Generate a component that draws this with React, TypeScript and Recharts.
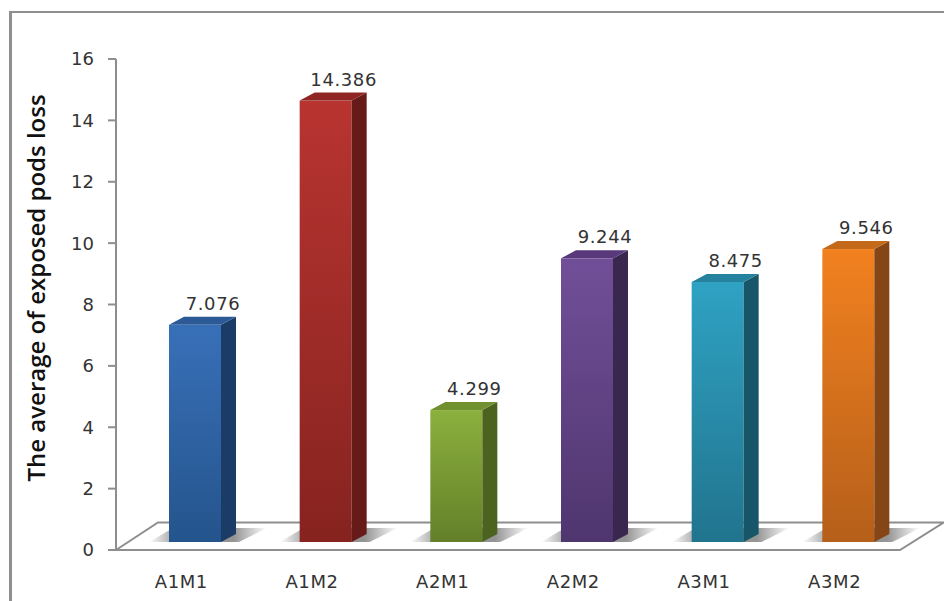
import React from 'react';
import { BarChart, Bar, XAxis, YAxis, LabelList, ReferenceArea, Cell } from 'recharts';

const categories = ['A1M1', 'A1M2', 'A2M1', 'A2M2', 'A3M1', 'A3M2'];
const values = [7.076, 14.386, 4.299, 9.244, 8.475, 9.546];
const yTicks = [0, 2, 4, 6, 8, 10, 12, 14, 16];

// front top, front bottom, side, cap
const palettes = [
  ['#3870b8', '#24548c', '#1b3c66', '#2b5a96'],
  ['#b83431', '#86231f', '#671b18', '#8f2623'],
  ['#8cb03e', '#638029', '#4b631f', '#71902f'],
  ['#714f98', '#4f366f', '#392750', '#59397c'],
  ['#2fa2c3', '#21748e', '#175668', '#24829e'],
  ['#f2811f', '#b55f1a', '#854514', '#c4691a'],
];

const chartData = categories.map((name, i) => ({ name, value: values[i] }));

const axisColor = '#8e8e8e';
const textColor = '#333333';

// bars stand a little back on the floor, so everything is nudged up and right
const SHIFT_X = 14;
const SHIFT_Y = -8;
const DEPTH_X = 15;
const DEPTH_Y = -8;

const Bar3D = (props: any) => {
  const { x, y, width, height, index } = props;
  const c = palettes[index];
  const l = x + SHIFT_X;
  const r = l + width;
  const t = y + SHIFT_Y;
  const b = t + height;
  return (
    <g>
      <polygon points={`${l - 20},${b} ${l + 4},${b - 14} ${r + 46},${b - 14} ${r + 18},${b}`} fill={`url(#shadow${index})`} />
      <rect x={l} y={t} width={width} height={height} fill={`url(#front${index})`} />
      <polygon points={`${r},${t} ${r + DEPTH_X},${t + DEPTH_Y} ${r + DEPTH_X},${b + DEPTH_Y} ${r},${b}`} fill={c[2]} />
      <polygon points={`${l},${t} ${l + DEPTH_X},${t + DEPTH_Y} ${r + DEPTH_X},${t + DEPTH_Y} ${r},${t}`} fill={c[3]} />
      <defs>
        <linearGradient id={`front${index}`} x1="0" y1="0" x2="0" y2="1">
          <stop offset="0%" stopColor={c[0]} />
          <stop offset="100%" stopColor={c[1]} />
        </linearGradient>
        <linearGradient id={`shadow${index}`} x1="0" y1="0" x2="1" y2="0">
          <stop offset="0%" stopColor="#666" stopOpacity={0} />
          <stop offset="25%" stopColor="#666" stopOpacity={0.7} />
          <stop offset="72%" stopColor="#666" stopOpacity={0.7} />
          <stop offset="100%" stopColor="#666" stopOpacity={0} />
        </linearGradient>
      </defs>
    </g>
  );
};

const Floor = (props: any) => {
  const { x, y, width, height } = props;
  const b = y + height;
  return (
    <polygon
      points={`${x},${b} ${x + 42},${y} ${x + width + 44},${y} ${x + width},${b}`}
      fill="#ffffff"
      stroke={axisColor}
      strokeWidth={2}
    />
  );
};

const ValueLabel = (props: any) => {
  const { x, y, width, value } = props;
  return (
    <text x={x + width / 2 + 32} y={y - 23} textAnchor="middle" fontSize={18} letterSpacing={0.6} fill={textColor} fontFamily="DejaVu Sans">
      {value.toFixed(3)}
    </text>
  );
};

export default function App() {
  return (
    <div style={{ position: 'absolute', left: 0, top: 0, width: 944, height: 601, background: '#fff', overflow: 'hidden' }}>
      <div style={{ position: 'absolute', left: 9, top: 11, width: 940, height: 600, borderLeft: '3px solid #8f8f8f', borderTop: '2px solid #8f8f8f' }} />
      <BarChart
        width={944}
        height={601}
        data={chartData}
        margin={{ top: 59, right: 44, bottom: 0, left: 0 }}
        style={{ position: 'absolute', left: 0, top: 0 }}
      >
        <XAxis
          dataKey="name"
          tickLine={false}
          axisLine={{ stroke: axisColor, strokeWidth: 2 }}
          height={51}
          tick={{ fill: textColor, fontSize: 18, fontFamily: 'DejaVu Sans', letterSpacing: 0.6, dy: 17 }}
          interval={0}
        />
        <YAxis
          width={116}
          domain={[0, 16]}
          ticks={yTicks}
          tickSize={8}
          tickLine={{ stroke: axisColor, strokeWidth: 2 }}
          axisLine={{ stroke: axisColor, strokeWidth: 2 }}
          tick={{ fill: textColor, fontSize: 18, fontFamily: 'DejaVu Sans', dx: -12 }}
          label={{
            value: 'The average of exposed pods loss',
            angle: -90,
            position: 'insideLeft',
            offset: 36,
            dy: 177,
            style: { fontFamily: 'Open Sans', fontWeight: 600, fontSize: 24, fill: '#111' },
          }}
        />
        <ReferenceArea y1={0} y2={0.9} shape={<Floor />} ifOverflow="visible" />
        <Bar dataKey="value" barSize={52} shape={<Bar3D />} isAnimationActive={false}>
          {chartData.map((d) => (
            <Cell key={d.name} />
          ))}
          <LabelList dataKey="value" content={<ValueLabel />} />
        </Bar>
      </BarChart>
    </div>
  );
}
